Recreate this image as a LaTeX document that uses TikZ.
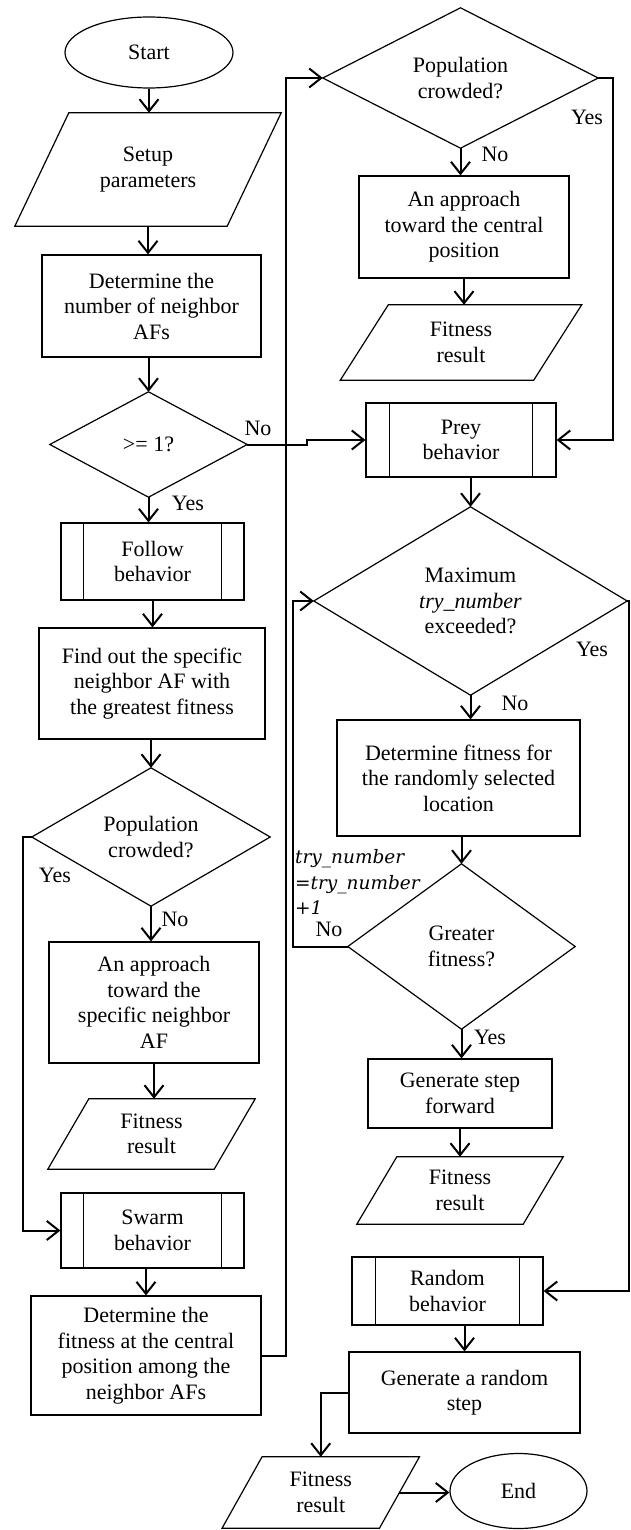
\documentclass[tikz,border=0pt]{standalone}
\usepackage{fontspec}
\setmainfont{Liberation Serif}
\newfontfamily\trifont{DejaVu Serif}
\usetikzlibrary{arrows.meta,shapes.geometric}
\tikzset{
  txt/.style={font=\fontsize{22}{25.5}\selectfont, align=center},
  base/.style={txt, shape=rectangle, inner sep=0pt},
  boxnode/.style={base, draw, line width=1.2pt},
  invis/.style={base},
  ellnode/.style={txt, shape=ellipse, draw, line width=1.2pt, inner sep=0pt},
  shapeline/.style={line width=1.2pt, line join=miter},
  conn/.style={line width=2pt, -{Straight Barb[length=12pt,width=19pt]}},
  lbl/.style={font=\fontsize{22}{25.5}\selectfont, inner sep=0pt},
}
\newcommand{\paral}[2]{\draw[shapeline] ([xshift=#2/2]#1.north west) -- ([xshift=#2/2]#1.north east) -- ([xshift=-#2/2]#1.south east) -- ([xshift=-#2/2]#1.south west) -- cycle;}
\newcommand{\diam}[1]{\draw[shapeline] (#1.north) -- (#1.east) -- (#1.south) -- (#1.west) -- cycle;}
\newcommand{\predef}[2]{\draw[shapeline] ([xshift=#2]#1.north west) -- ([xshift=#2]#1.south west) ([xshift=-#2]#1.north east) -- ([xshift=-#2]#1.south east);}
\begin{document}
\begin{tikzpicture}[x=1pt,y=-1pt]
\useasboundingbox (0,0) rectangle (631,1530);
% ---------- left column ----------
\node[ellnode, minimum width=168pt, minimum height=71pt] (start) at (149,52.5) {Start};
\node[invis, minimum width=212pt, minimum height=113pt] (setup) at (148,169.5) {Setup\\parameters};
\paral{setup}{54}
\node[boxnode, minimum width=219pt, minimum height=102pt] (det1) at (151.5,306) {Determine the\\number of neighbor\\AFs};
\node[invis, minimum width=197pt, minimum height=105pt] (ge1) at (148.5,444.5) {>= 1?};
\diam{ge1}
\node[boxnode, minimum width=183pt, minimum height=77pt] (follow) at (152.5,561.5) {Follow\\behavior};
\predef{follow}{23}
\node[boxnode, minimum width=226pt, minimum height=111pt] (find) at (152,683.5) {Find out the specific\\neighbor AF with\\the greatest fitness};
\node[invis, minimum width=238pt, minimum height=138pt] (crowd1) at (151,837) {Population\\crowded?};
\diam{crowd1}
\node[boxnode, minimum width=210pt, minimum height=121pt] (appr1) at (154,1002.5) {An approach\\toward the\\specific neighbor\\AF};
\node[invis, minimum width=166pt, minimum height=70pt] (fit1) at (151.5,1134) {Fitness\\result};
\paral{fit1}{41}
\node[boxnode, minimum width=183pt, minimum height=75pt] (swarm) at (152.5,1230.5) {Swarm\\behavior};
\predef{swarm}{23}
\node[boxnode, minimum width=230pt, minimum height=119pt] (det2) at (146,1355.5) {Determine the\\fitness at the central\\position among the\\neighbor AFs};
% ---------- right column ----------
\node[invis, minimum width=275pt, minimum height=140pt] (crowd2) at (460.5,78) {Population\\crowded?};
\diam{crowd2}
\node[boxnode, minimum width=210pt, minimum height=102pt] (appr2) at (464,227) {An approach\\toward the central\\position};
\node[invis, minimum width=193pt, minimum height=75pt] (fit2) at (461,342.5) {Fitness\\result};
\paral{fit2}{48}
\node[boxnode, minimum width=190pt, minimum height=74pt] (prey) at (461,440) {Prey\\behavior};
\predef{prey}{24}
\node[invis, minimum width=313pt, minimum height=188pt] (maxtry) at (470.5,601) {Maximum\\\textit{try\_number}\\exceeded?};
\diam{maxtry}
\node[boxnode, minimum width=243pt, minimum height=116pt] (detfit) at (458.5,778) {Determine fitness for\\the randomly selected\\location};
\node[invis, minimum width=227pt, minimum height=165pt] (greater) at (461.5,946.5) {Greater\\fitness?};
\diam{greater}
\node[boxnode, minimum width=184pt, minimum height=69pt] (genstep) at (460,1093.5) {Generate step\\forward};
\node[invis, minimum width=166pt, minimum height=67pt] (fit3) at (460,1190.5) {Fitness\\result};
\paral{fit3}{40}
\node[boxnode, minimum width=191pt, minimum height=68pt] (random) at (447.5,1291) {Random\\behavior};
\predef{random}{24}
\node[boxnode, minimum width=231pt, minimum height=81pt] (genrand) at (464.5,1392.5) {Generate a random\\step};
\node[invis, minimum width=157pt, minimum height=71pt] (fit4) at (320.75,1492.5) {Fitness\\result};
\paral{fit4}{40}
\node[ellnode, minimum width=137pt, minimum height=75pt] (endn) at (518.5,1491) {End};
% ---------- connectors ----------
\draw[conn] (start.south) -- (start.south |- setup.north);
\draw[conn] (setup.south) -- (setup.south |- det1.north);
\draw[conn] (ge1.north |- det1.south) -- (ge1.north);
\draw[conn] (ge1.south) -- (ge1.south |- follow.north);
\draw[conn] (follow.south) -- (follow.south |- find.north);
\draw[conn] (crowd1.north |- find.south) -- (crowd1.north);
\draw[conn] (crowd1.south) -- (crowd1.south |- appr1.north);
\draw[conn] (appr1.south) -- (appr1.south |- fit1.north);
\draw[conn] (crowd1.west) -- ++(-9,0) |- (swarm.west);
\draw[conn] (det2.north |- swarm.south) -- (det2.north);
\draw[conn] (det2.east) -- ++(24,0) |- (crowd2.west);
\draw[conn] (ge1.east) -- ++(60,0) |- (prey.west);
\draw[conn] (crowd2.south) -- (crowd2.south |- appr2.north);
\draw[conn] (appr2.south) -- (appr2.south |- fit2.north);
\draw[conn] (crowd2.east) -- ++(15,0) |- (prey.east);
\draw[conn] (maxtry.north |- prey.south) -- (maxtry.north);
\draw[conn] (maxtry.south) -- (maxtry.south |- detfit.north);
\draw[conn] (greater.north |- detfit.south) -- (greater.north);
\draw[conn] (greater.west) -- ++(-55,0) |- (maxtry.west);
\draw[conn] (greater.south) -- (greater.south |- genstep.north);
\draw[conn] (genstep.south) -- (genstep.south |- fit3.north);
\draw[conn] (maxtry.east) -- ++(2,0) |- (random.east);
\draw[conn] (genrand.north |- random.south) -- (genrand.north);
\draw[conn] (genrand.west) -| (fit4.north);
\draw[conn] (fit4.east) -- (fit4.east -| endn.west);
% ---------- labels ----------
\node[lbl] (l1) at (258,428) {No};
\node[lbl] (l2) at (188,503) {Yes};
\node[lbl] (l3) at (55,875) {Yes};
\node[lbl] (l4) at (175,919) {No};
\node[lbl] (l5) at (587,117) {Yes};
\node[lbl] (l6) at (495,154) {No};
\node[lbl] (l7) at (592,649) {Yes};
\node[lbl] (l8) at (515,703) {No};
\node[lbl] (l9) at (329,929) {No};
\node[lbl] (l10) at (490,1037) {Yes};
\node[anchor=west, align=left, inner sep=0pt, font=\trifont\itshape\fontsize{18.5}{25.5}\selectfont] (trylbl) at (295,882) {try\_number\\=try\_number\\+1};
\end{tikzpicture}
\end{document}
